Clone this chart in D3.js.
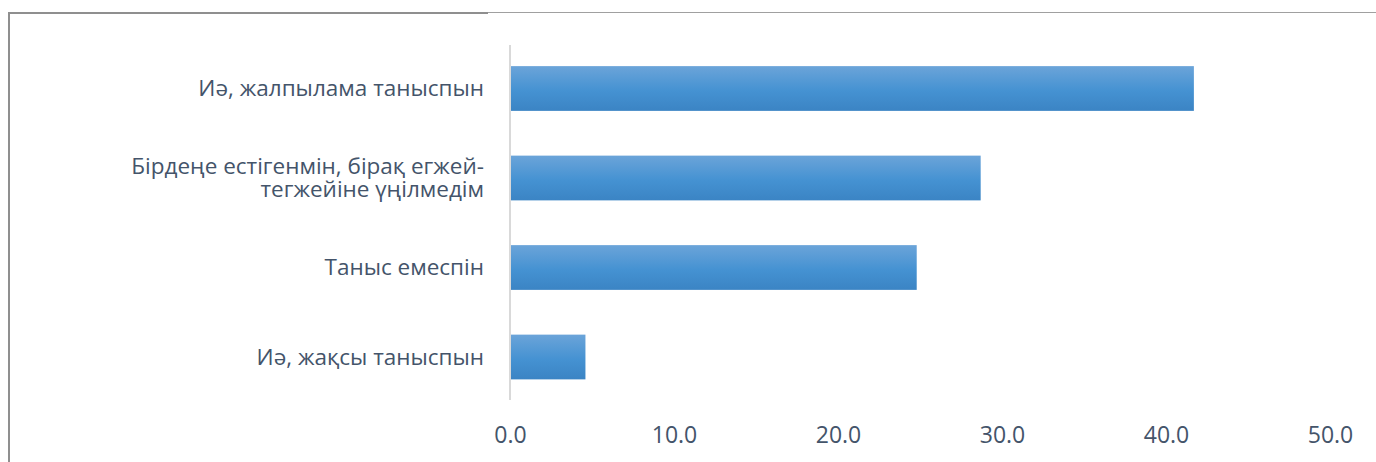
<!DOCTYPE html>
<html>
<head>
<meta charset="utf-8">
<script src="https://cdn.jsdelivr.net/npm/d3@7"></script>
<style>
  html, body { margin: 0; padding: 0; background: #ffffff; }
  svg { display: block; }
  text { font-family: "Open Sans", "Noto Sans", sans-serif; }
</style>
</head>
<body>
<svg id="chart" width="1376" height="462"></svg>
<script>
// Survey answers, top to bottom, with their share in percent
const categories = [
  "Иә, жалпылама таныспын",
  "Бірдеңе естігенмін, бірақ егжей-тегжейіне үңілмедім",
  "Таныс емеспін",
  "Иә, жақсы таныспын"
];
const labelLines = [
  ["Иә, жалпылама таныспын"],
  ["Бірдеңе естігенмін, бірақ егжей-", "тегжейіне үңілмедім"],
  ["Таныс емеспін"],
  ["Иә, жақсы таныспын"]
];
const values = [41.7, 28.7, 24.8, 4.6];
const tickValues = [0, 10, 20, 30, 40, 50];

const W = 1376, H = 462;
const svg = d3.select("#chart");

// gradient fill for the bars
const defs = svg.append("defs");
const grad = defs.append("linearGradient")
  .attr("id", "barFill").attr("x1", 0).attr("y1", 0).attr("x2", 0).attr("y2", 1);
grad.append("stop").attr("offset", "0%").attr("stop-color", "#6ba4d9");
grad.append("stop").attr("offset", "55%").attr("stop-color", "#4592d2");
grad.append("stop").attr("offset", "100%").attr("stop-color", "#3b84c4");

// outer frame: left and top edges
svg.append("line").attr("x1", 9).attr("x2", 9).attr("y1", 12).attr("y2", H)
  .attr("stroke", "#8f8f8f").attr("stroke-width", 2);
svg.append("line").attr("x1", 8).attr("x2", 488).attr("y1", 13).attr("y2", 13)
  .attr("stroke", "#8f8f8f").attr("stroke-width", 2);
svg.append("line").attr("x1", 488).attr("x2", W).attr("y1", 12.5).attr("y2", 12.5)
  .attr("stroke", "#a0a0a0").attr("stroke-width", 1);

const x = d3.scaleLinear().domain([0, 50]).range([510, 1330]);
const y = d3.scaleBand().domain(categories).range([43.75, 401.75])
  .paddingInner(0.5).paddingOuter(0.25);

// category axis line
svg.append("line")
  .attr("x1", x(0)).attr("x2", x(0))
  .attr("y1", 45).attr("y2", 400)
  .attr("stroke", "#d9d9d9").attr("stroke-width", 2);

// bars
svg.append("g").selectAll("rect")
  .data(categories)
  .join("rect")
  .attr("x", x(0) + 1)
  .attr("y", d => y(d))
  .attr("width", (d, i) => x(values[i]) - x(0) - 1)
  .attr("height", y.bandwidth())
  .attr("fill", "url(#barFill)");

// category labels, one text element per line
const labelG = svg.append("g");
const lineGap = 23;
categories.forEach((c, i) => {
  const lines = labelLines[i];
  const cy = y(c) + y.bandwidth() / 2;
  lines.forEach((ln, j) => {
    labelG.append("text")
      .attr("text-anchor", "end")
      .attr("fill", "#44546a")
      .attr("font-size", 22.5)
      .attr("x", 484)
      .attr("y", cy + (j - (lines.length - 1) / 2) * lineGap + 7.5)
      .text(ln);
  });
});

// value axis labels
const xAxis = d3.axisBottom(x).tickValues(tickValues)
  .tickFormat(d3.format(".1f")).tickSize(0).tickPadding(0);
const ax = svg.append("g").attr("transform", "translate(0,427)").call(xAxis);
ax.select(".domain").remove();
ax.selectAll("text")
  .attr("fill", "#44546a")
  .attr("font-size", 23)
  .attr("font-family", "\"Open Sans\", \"Noto Sans\", sans-serif");
</script>
</body>
</html>
